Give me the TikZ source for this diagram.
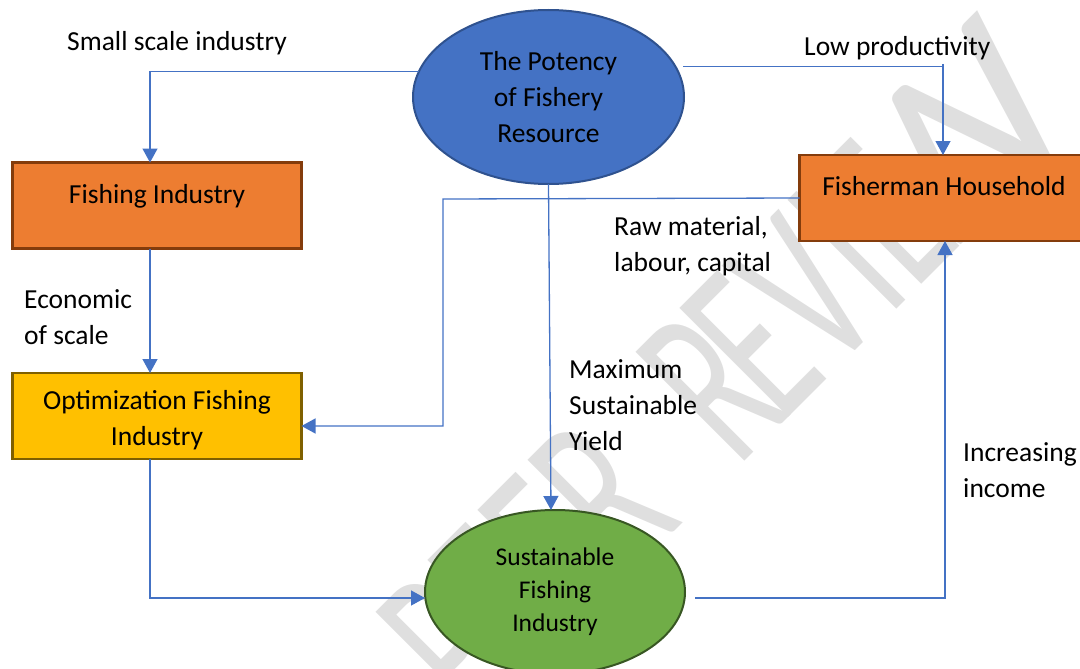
\documentclass[tikz,border=0pt]{standalone}
\usepackage{fontspec}
\setmainfont{Carlito}
\usetikzlibrary{arrows.meta,shapes.geometric}
\definecolor{conn}{HTML}{4472C4}
\definecolor{wmark}{HTML}{DFDFDF}
\tikzset{
  boxbase/.style={draw,line width=2.4pt,inner sep=0pt,outer sep=0pt,align=center,minimum width=289pt,minimum height=86pt,text=black,font=\fontsize{27.5}{36}\selectfont},
  orangebox/.style={boxbase,fill=orangefill,draw=orangeline},
  goldbox/.style={boxbase,fill=goldfill,draw=goldline},
  oval/.style={ellipse,draw,line width=2pt,inner sep=0pt,outer sep=0pt,align=center,text=black},
  lbl/.style={anchor=west,inner sep=0pt,align=left,text=black,font=\fontsize{27.5}{36}\selectfont},
  link/.style={draw=conn,line width=1.3pt,-{Triangle[length=14pt,width=15pt]}},
  plainlink/.style={draw=conn,line width=1.3pt},
  wm/.style={rotate=45,anchor=base west,inner sep=0pt,text=wmark,font=\fontsize{240}{240}\selectfont}
}
\definecolor{orangefill}{HTML}{ED7D31}
\definecolor{orangeline}{HTML}{843C0C}
\definecolor{goldfill}{HTML}{FFC000}
\definecolor{goldline}{HTML}{7F6000}
\definecolor{bluefill}{HTML}{4472C4}
\definecolor{blueline}{HTML}{2F528F}
\definecolor{greenfill}{HTML}{70AD47}
\definecolor{greenline}{HTML}{385723}
\begin{document}
\begin{tikzpicture}[x=1pt,y=-1pt]
\useasboundingbox (0,0) rectangle (1080,669);
% watermark
\node[wm] (wmone) at (477,729) {\scalebox{.6}[1]{PEER}};
\node[wm] (wmtwo) at (737.5,468.5) {\scalebox{.6}[1]{R\kern-28pt EVIE\kern-93pt\scalebox{1.8}[1]{W}}};
% nodes
\node[oval,fill=bluefill,draw=blueline,minimum width=271pt,minimum height=174pt,font=\fontsize{27.5}{36}\selectfont] (pot) at (548.5,97) {The Potency\\of Fishery\\Resource};
\node[orangebox,text depth=24pt] (fish) at (157,205.5) {Fishing Industry};
\node[goldbox] (opt) at (157,416) {\rule{0pt}{27pt}Optimization Fishing\\Industry};
\node[orangebox,text depth=24pt] (fam) at (944,198) {Fisherman Household};
\node[oval,fill=greenfill,draw=greenline,minimum width=260pt,minimum height=164pt,font=\fontsize{25.5}{33}\selectfont] (green) at (555,592) {Sustainable\\Fishing\\Industry};
% labels
\node[lbl] (lsmall) at (67,43) {Small scale industry};
\node[lbl] (llow) at (804,48) {Low productivity};
\node[lbl] (lraw) at (614,246.5) {Raw material,\\labour, capital};
\node[lbl] (lecon) at (24,317) {Economic\\of scale};
\node[lbl] (lmax) at (569,405) {Maximum\\Sustainable\\Yield};
\node[lbl] (linc) at (963,470) {Increasing\\income};
% helper points
\coordinate (rawturn) at (443,199);
\coordinate (lowtop) at (943,64);
\coordinate (lowend) at (944,66.5);
% connectors
\draw[link] (pot.169) -| ([xshift=-7pt]fish.north);
\draw[link] ([xshift=-7pt]fish.south) -- ([xshift=-7pt]opt.north);
\draw[link] ([xshift=-7pt]opt.south) |- ([yshift=-6pt]green.west);
\draw[plainlink] ([xshift=-1pt,yshift=30.5pt]pot.east) -- (lowend);
\draw[link] (lowtop) -- ([xshift=-1pt]fam.north);
\draw[link] (fam.west) -- (rawturn) |- ([yshift=-10pt]opt.east);
\draw[link] (pot.south) -- ([xshift=-4pt]green.north);
\draw[link] ([xshift=10pt,yshift=-6pt]green.east) -| ([xshift=1pt]fam.south);
\end{tikzpicture}
\end{document}
